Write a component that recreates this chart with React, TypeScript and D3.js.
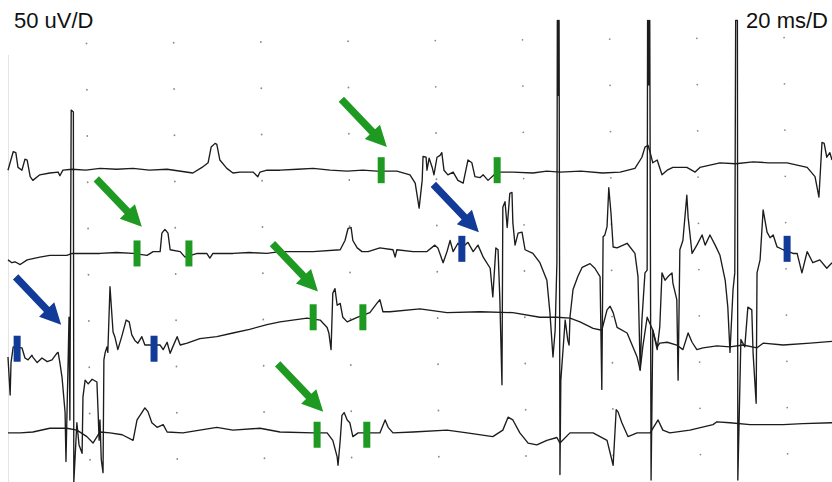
import React, { useEffect, useRef } from 'react';
import * as d3 from 'd3';

// EMG sweep, 20 ms per division, 50 uV per division
// each trace point is [ms, uV relative to trace baseline]
const trace1: [number, number][] = [
  [1.6, 0], [2.8, 20], [3.4, 19], [3.9, 3], [4.8, 0], [5.5, 12], [6.0, 11], [6.7, -7], [7.3, -11],
  [8.9, -5], [11.2, -3], [13.1, -2], [13.5, -6], [14.2, 0], [16.3, 1], [19.5, 0], [22.7, 2], [26.5, 1],
  [30.3, 2], [34.0, 0], [38.1, 1], [44.0, -3], [46.1, 3], [47.5, 8], [48.2, 25], [49.1, 29], [49.5, 28],
  [50.2, 11], [51.8, 2], [53.2, -3], [54.8, -2], [57.8, -2], [58.9, -7], [59.4, -2], [61.0, 0], [64.0, 0],
  [68.0, 1], [71.6, 2], [75.5, 0], [79.4, -1], [83.0, 0], [86.2, -1], [90.8, -1], [93.8, -5], [95.0, -14],
  [95.9, -41], [96.6, -11], [96.8, 15], [97.5, 14], [97.7, 0], [98.2, 13], [98.9, 3], [99.3, -5], [100, 14],
  [100.7, 16], [101.1, 19], [101.6, 0], [102.5, -5], [103.7, -2], [104.8, -11], [106.0, -14], [107.1, 11],
  [108.0, 8], [108.7, -7], [109.9, -8], [110.6, -5], [111.7, -11], [113.8, -2], [117.4, -2], [122.0, -3],
  [125.2, -1], [128.2, -2], [133.0, -1], [138.0, -3], [142.0, -2], [145.4, 2], [147.0, 14], [147.7, 25],
  [148.4, 27], [148.9, 19], [149.5, 8], [150.5, 11], [151.6, -5], [152.8, 0], [154.1, 3], [157.3, 3],
  [159.2, -2], [160.3, 3], [164.9, 8], [168.5, 7], [172.5, 9], [176.0, 8], [180.3, 8], [184.9, 3],
  [186.7, -7], [187.6, -29], [188.3, 30], [188.8, 29], [189.4, 14], [190.1, 19], [190.6, 11],
];

const trace2: [number, number][] = [
  [1.6, -7], [2.5, -10], [3.2, -9], [4.4, -12], [6.0, -7], [8.9, -4], [11.2, -2], [15.1, -2], [16.3, 0],
  [22.7, 0], [26.5, 1], [30.3, 0], [33.5, -2], [34.9, 2], [36.5, 2], [36.9, 22], [37.6, 26], [38.3, 22],
  [38.8, 4], [41.1, 2], [42.2, -4], [45.0, 0], [47.2, 0], [47.9, -5], [48.6, 0], [53.2, 0], [57.0, 1],
  [61.0, 0], [64.0, 2], [71.6, 2], [77.8, 4], [78.9, 14], [79.6, 27], [80.3, 28], [80.7, 14], [81.7, 6],
  [82.8, 2], [84.2, 2], [86.9, 6], [89.9, 4], [90.4, -4], [90.8, 4], [94.5, 2], [97.7, 2], [99.5, 9],
  [100.2, 6], [101.4, -10], [102.3, 2], [103.0, 14], [103.7, 2], [104.8, 11], [105.7, 6], [107.1, 12],
  [108.3, 2], [109.4, 9], [110.6, -4], [112.2, -16], [112.8, -47], [113.5, 6], [114.0, 4], [114.4, -47],
  [114.9, -142], [115.1, 50], [115.6, 56], [116.1, 28], [116.7, 65], [117.2, 66], [117.4, 33], [117.9, 9],
  [118.6, 22], [119.5, 23], [120.2, 4], [122.0, 0], [123.6, -10], [125.2, -29], [125.9, -64], [126.6, -112],
  [127.1, -83], [127.5, -10], [127.6, 252], [127.7, 171], [127.8, 252], [127.9, 171], [128.0, 252],
  [128.2, -239], [128.4, -137],
  [129.4, -72], [130.0, -94], [130.3, -99], [130.5, -69], [131.2, -39], [132.3, -25], [133.3, -15],
  [135.1, -11], [136.2, -16], [137.4, -25], [137.8, -147], [138.1, 18], [138.5, 20], [139.0, 29],
  [139.4, 71], [139.9, 44], [140.4, 7], [141.3, 6], [143.6, 11], [145.4, 0], [146.1, -25], [146.6, -126],
  [147.0, -72], [147.7, -21], [148.2, -18], [148.3, 252], [148.45, 182], [148.6, 252], [148.75, 182],
  [148.8, 252], [149.1, -245],
  [149.5, -83], [150.5, -104], [151.1, -79], [151.6, -21], [152.3, -29], [153.0, -25], [153.9, -21],
  [154.1, -32], [155.0, -50], [155.3, -137], [155.7, 4], [156.4, 14], [157.3, 63], [157.6, 39], [158.5, 0],
  [159.6, 9], [160.8, 20], [161.5, 9], [162.6, 20], [163.8, 9], [164.9, -2], [166.1, -29], [166.7, -58],
  [167.2, -107], [167.9, -39], [168.3, -21], [168.5, 252], [168.9, 252], [169.0, -245], [169.7, -93],
  [170.6, -101], [171.3, -58], [172.2, -61], [172.5, -108], [173.2, -162], [173.4, -21], [174.1, -7],
  [174.8, 47], [175.7, 23], [176.4, 17], [177.1, 20], [178.0, 7], [179.4, 4], [181.7, 0], [182.6, 0],
  [183.7, -21], [184.9, 2], [186.2, -10], [187.8, -7], [189.4, -16], [190.6, -10],
];

const trace3: [number, number][] = [
  [1.6, -12], [2.1, -53], [2.3, -18], [2.8, -1], [4.8, -2], [5.5, -13], [6.2, -15], [7.1, -10], [7.3, -12],
  [8.3, -18], [9.4, -13], [10.6, -17], [11.7, -15], [12.8, -8], [13.1, -7], [13.5, -18], [14.0, -34],
  [14.7, -72], [14.9, -125], [15.4, -15], [15.6, 31], [15.8, -80], [16.1, 255], [16.6, 253], [16.7, -147],
  [17.0, -120], [17.4, -83], [17.9, -107], [18.6, -116], [18.8, -55], [19.3, -37], [20.0, -41], [20.9, -36],
  [22.0, -39], [22.3, -75], [22.5, -102], [22.7, -80], [23.0, -123], [23.4, -137], [23.6, -15], [23.9, -7],
  [24.3, -1], [24.5, -7], [25.0, 64], [25.7, 15], [26.1, 10], [26.8, -4], [27.8, 12], [28.7, 28], [29.4, 26],
  [30.0, 12], [30.7, 6], [31.4, 3], [32.3, 10], [33.0, 1], [34.2, 1], [36.5, 1], [37.2, -4], [38.1, 4],
  [38.8, -8], [39.4, -1], [40.4, 10], [41.1, 1], [42.7, 3], [45.6, 8], [49.5, 10], [53.2, 14], [57.0, 18],
  [61.0, 23], [64.0, 26], [70.2, 30], [73.2, 28], [74.8, 20], [75.2, 14], [75.7, -4], [76.1, 57], [76.6, 62],
  [77.1, 44], [77.8, 46], [78.4, 31], [79.4, 26], [81.7, 31], [84.6, 36], [86.2, 46], [86.9, 50], [87.6, 37],
  [89.2, 37], [96.1, 40], [102.3, 36], [109.9, 37], [117.4, 36], [123.6, 31], [127.5, 31], [130.5, 30],
  [132.8, 26], [135.8, 19], [137.8, 17], [139.0, 39], [139.7, 43], [140.4, 36], [141.3, 20], [143.6, 14],
  [145.9, -12], [146.6, -26], [147.2, -1], [148.2, 31], [149.5, 17], [150.5, -1], [151.1, 3], [152.8, 4],
  [155.0, 1], [156.4, -4], [157.6, 14], [158.5, 4], [159.6, -4], [161.0, -2], [164.2, 0], [167.2, -1],
  [170.2, 1], [173.4, -2], [174.8, 3], [179.4, 1], [185.6, 3], [190.6, 5],
];

const trace4: [number, number][] = [
  [1.6, -1], [4.4, -1], [7.3, 0], [11.2, 4], [15.1, 4], [17.4, 2], [19.7, -5], [21.1, -12], [22.7, 0],
  [25.0, -1], [27.8, -3], [30.3, -9], [31.2, 13], [32.3, 21], [33.0, 26], [33.7, 22], [34.6, 10], [35.8, 5],
  [37.2, 8], [38.1, 0], [41.7, -1], [45.6, 2], [49.5, 5], [53.2, 2], [59.4, 4], [64.0, 0], [71.6, -1],
  [74.8, -1], [76.1, -9], [77.1, -27], [77.3, -36], [77.8, -9], [78.2, 18], [78.7, 21], [79.4, 13], [80.0, 10],
  [80.7, -5], [81.9, -1], [85.3, -1], [86.9, -1], [88.1, 13], [88.8, 5], [89.9, -1], [94.5, 0], [102.3, 2],
  [106.9, -1], [112.8, -5], [115.1, 2], [116.3, 16], [117.4, 13], [119.0, -1], [120.9, -12], [122.9, -14],
  [125.2, -9], [127.5, -6], [128.2, -12], [130.5, -1], [135.8, -1], [139.0, -9], [140.4, -36], [141.1, 24],
  [141.5, 22], [142.4, 10], [143.8, -5], [145.9, -1], [148.9, -1], [150.7, 13], [151.8, 2], [153.4, -1],
  [158.0, 2], [163.3, 8], [164.2, 11], [167.2, 10], [171.8, 8], [179.4, 8], [183.9, 9], [190.6, 10],
];

const traces = [trace1, trace2, trace3, trace4];
const baselines = [-140, -230, -330, -423]; // uV, position of each trace on the screen

const gridMs = [20, 40, 60, 80, 100, 120, 140, 160, 180];
const gridUv = [0, -50, -100, -150, -200, -250, -300, -350, -400, -450];

// marker bars [ms, uV]
const greenMarks: [number, number][] = [
  [87.2, -140], [113.8, -140], [31.2, -230], [43.1, -230],
  [71.6, -299], [83.0, -299], [72.5, -426], [83.9, -426],
];
const blueMarks: [number, number][] = [[105.7, -225], [180.3, -225], [3.7, -333], [35.1, -333]];

// arrow tips [ms, uV]
const greenArrows: [number, number][] = [[88.5, -115], [32.3, -201], [72.7, -271], [73.9, -401]];
const blueArrows: [number, number][] = [[109.6, -207], [13.8, -307]];

const GREEN = '#1e9a22';
const BLUE = '#123a98';

const W = 832;
const H = 482;

const App = () => {
  const ref = useRef<SVGSVGElement>(null);

  useEffect(() => {
    document.body.style.margin = '0';
    const svg = d3.select(ref.current);
    svg.selectAll('*').remove();

    const x = d3.scaleLinear().domain([0, 190]).range([1, 829.4]);
    const y = d3.scaleLinear().domain([0, -450]).range([40.7, 456.95]);

    svg.append('rect').attr('width', W).attr('height', H).attr('fill', '#fff');

    // faint paper edge
    svg.append('line')
      .attr('x1', 8.5).attr('x2', 8.5).attr('y1', 55).attr('y2', H)
      .attr('stroke', '#e4e4e4').attr('stroke-width', 1);

    // dotted grid, the scan is slightly tilted
    const grid = svg.append('g').attr('transform', `rotate(-0.49, ${W / 2}, ${H / 2})`);
    gridUv.forEach(v => {
      grid.selectAll(null)
        .data(gridMs)
        .enter()
        .append('circle')
        .attr('cx', d => x(d))
        .attr('cy', y(v))
        .attr('r', 0.9)
        .attr('fill', '#8a8a8a');
    });

    // traces
    traces.forEach((pts, i) => {
      const line = d3.line<[number, number]>()
        .x(d => x(d[0]))
        .y(d => y(baselines[i] + d[1]));
      svg.append('path')
        .attr('d', line(pts))
        .attr('fill', 'none')
        .attr('stroke', '#1c1c1c')
        .attr('stroke-width', 1.35)
        .attr('stroke-linejoin', 'round');
    });

    // marker bars
    const bars = (marks: [number, number][], color: string) => {
      svg.append('g')
        .selectAll('rect')
        .data(marks)
        .enter()
        .append('rect')
        .attr('x', d => x(d[0]) - 3.5)
        .attr('y', d => y(d[1]) - 13)
        .attr('width', 7)
        .attr('height', 26)
        .attr('fill', color);
    };
    bars(greenMarks, GREEN);
    bars(blueMarks, BLUE);

    // arrows pointing down-right at the marks
    const arrowPath = (tx: number, ty: number) => {
      const len = 66;
      const ux = 0.69;
      const uy = 0.724;
      const px = -uy;
      const py = ux;
      const sw = 3.7; // half shaft width
      const hl = 21; // head length
      const hw = 10.5; // head half width
      const bx = tx - ux * hl;
      const by = ty - uy * hl;
      const sx = tx - ux * len;
      const sy = ty - uy * len;
      const p = [
        [sx + px * sw, sy + py * sw],
        [bx + px * sw, by + py * sw],
        [bx + px * hw, by + py * hw],
        [tx, ty],
        [bx - px * hw, by - py * hw],
        [bx - px * sw, by - py * sw],
        [sx - px * sw, sy - py * sw],
      ];
      return 'M' + p.map(q => q.join(',')).join('L') + 'Z';
    };
    const arrows = (tips: [number, number][], color: string) => {
      svg.append('g')
        .selectAll('path')
        .data(tips)
        .enter()
        .append('path')
        .attr('d', d => arrowPath(x(d[0]), y(d[1])))
        .attr('fill', color);
    };
    arrows(greenArrows, GREEN);
    arrows(blueArrows, BLUE);

    // scale labels
    svg.append('text')
      .attr('x', 14).attr('y', 28)
      .attr('font-family', 'Liberation Sans, Arial, sans-serif')
      .attr('font-size', 22)
      .attr('fill', '#111')
      .text('50 uV/D');
    svg.append('text')
      .attr('x', 828).attr('y', 28)
      .attr('text-anchor', 'end')
      .attr('font-family', 'Liberation Sans, Arial, sans-serif')
      .attr('font-size', 22)
      .attr('fill', '#111')
      .text('20 ms/D');
  }, []);

  return (
    <svg
      ref={ref}
      width={W}
      height={H}
      style={{ position: 'absolute', left: 0, top: 0, display: 'block' }}
    />
  );
};

export default App;
